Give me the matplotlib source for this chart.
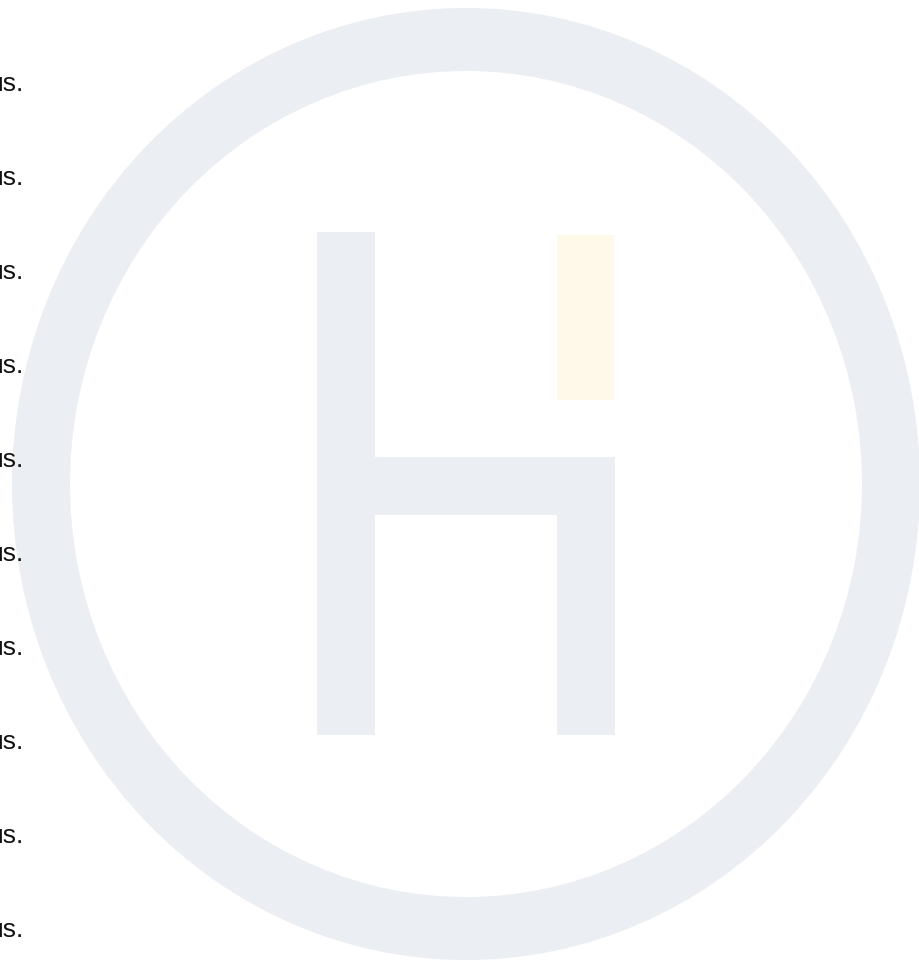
import matplotlib
matplotlib.use('Agg')
import matplotlib.pyplot as plt
from matplotlib.patches import Ellipse, Rectangle

# logo pieces, in pixel units of the 920x965 picture
ring_center = (466, 484)
ring_outer = (908, 952)   # width, height
ring_inner = (792, 826)
h_bars = [  # x, y, width, height
    (317, 232, 58, 503),   # left stem
    (375, 457, 182, 58),   # cross bar
    (557, 457, 58, 278),   # right stem (lower part)
]
accent_bar = (557, 235, 57, 165)
label_text = 'us.'
label_y = [84, 178, 272, 366, 460, 554, 648, 742, 836, 930]

gray = '#EBEEF2'
yellow = '#FFF9E9'

fig = plt.figure(figsize=(9.2, 9.65), dpi=100)
ax = fig.add_axes([0, 0, 1, 1])
ax.set_xlim(0, 920)
ax.set_ylim(965, 0)
ax.axis('off')

# ring
ax.add_patch(Ellipse(ring_center, *ring_outer, facecolor=gray, edgecolor='none'))
ax.add_patch(Ellipse(ring_center, *ring_inner, facecolor='white', edgecolor='none'))

# the H
for x, y, w, h in h_bars:
    ax.add_patch(Rectangle((x, y), w, h, facecolor=gray, edgecolor='none'))
x, y, w, h = accent_bar
ax.add_patch(Rectangle((x, y), w, h, facecolor=yellow, edgecolor='none'))

# repeated text, cut off by the left edge as in the original
for y in label_y:
    ax.text(-12, y, label_text, fontsize=19, family='Liberation Sans',
            color='#111111', ha='left', va='center', clip_on=False)

fig.savefig('out.png', dpi=100)
